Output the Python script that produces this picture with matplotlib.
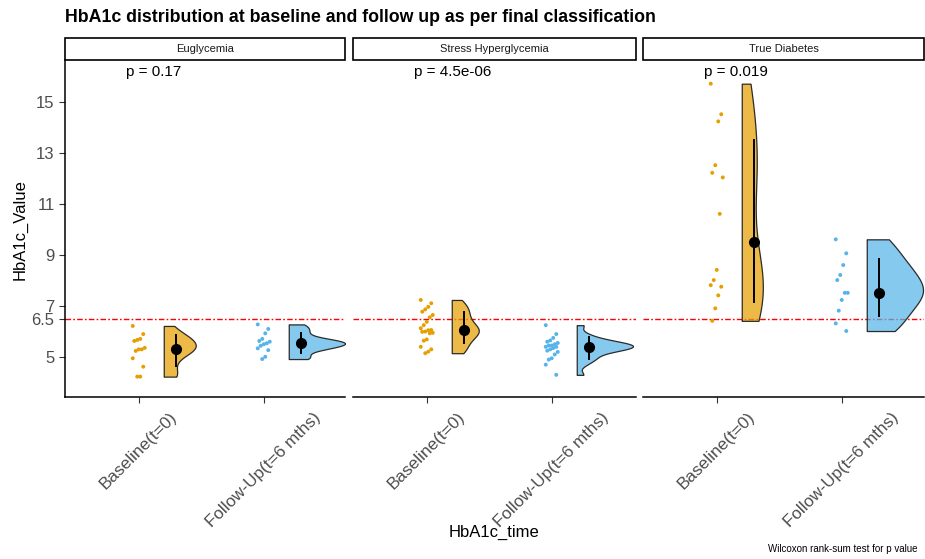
import numpy as np
import matplotlib
matplotlib.use("Agg")
import matplotlib.pyplot as plt
from matplotlib.patches import Rectangle
from matplotlib.colors import to_rgba

plt.rcParams['font.family'] = ['Liberation Sans', 'DejaVu Sans']

# facet names, x categories, p values
panels = ['Euglycemia', 'Stress Hyperglycemia', 'True Diabetes']
times = ['Baseline(t=0)', 'Follow-Up(t=6 mths)']
p_labels = ['p = 0.17', 'p = 4.5e-06', 'p = 0.019']

# HbA1c values
eu_base = [6.22, 5.90, 5.71, 5.67, 5.63, 5.36, 5.30, 5.30, 5.24, 4.95, 4.62, 4.23, 4.23]
eu_follow = [6.28, 6.10, 5.93, 5.71, 5.63, 5.60, 5.54, 5.50, 5.44, 5.34, 5.27, 5.01, 4.92]
sh_base = [7.24, 7.11, 6.97, 6.87, 6.78, 6.65, 6.56, 6.38, 6.25, 6.13, 6.06, 6.05, 6.00,
           5.99, 5.95, 5.93, 5.69, 5.64, 5.40, 5.30, 5.21, 5.15]
sh_follow = [6.25, 5.90, 5.75, 5.65, 5.60, 5.55, 5.50, 5.45, 5.45, 5.40, 5.40, 5.35, 5.30,
             5.25, 5.20, 5.10, 4.95, 4.90, 4.70, 4.30]
td_base = [15.73, 14.53, 14.25, 12.53, 12.23, 12.05, 10.62, 8.42, 8.02, 7.82, 7.76, 7.42, 6.91, 6.42]
td_follow = [9.62, 9.07, 8.61, 8.22, 8.02, 7.52, 7.52, 7.24, 6.82, 6.32, 6.02]

groups = [(eu_base, eu_follow), (sh_base, sh_follow), (td_base, td_follow)]
colors = ['#E69F00', '#56B4E9']
y_ticks = [5, 6.5, 7, 9, 11, 13, 15]


def bw_nrd0(x):
    sd = x.std(ddof=1)
    q75, q25 = np.percentile(x, [75, 25])
    lo = min(sd, (q75 - q25) / 1.34)
    if lo == 0:
        lo = sd
    return 0.9 * lo * len(x) ** -0.2


def kde(x, grid):
    bw = bw_nrd0(x)
    z = (grid[:, None] - x[None, :]) / bw
    return np.exp(-0.5 * z ** 2).sum(axis=1) / (len(x) * bw * np.sqrt(2 * np.pi))


W, H = 925, 559
fig = plt.figure(figsize=(W / 100, H / 100), dpi=100)
panel_x = [(65, 345), (353, 636), (643, 924)]
top, bottom = 60, 397
px_per_unit = 125

for k, (x0, x1) in enumerate(panel_x):
    ax = fig.add_axes([x0 / W, 1 - bottom / H, (x1 - x0) / W, (bottom - top) / H])
    ax.set_xlim(0.41, 0.41 + (x1 - x0) / px_per_unit)
    ax.set_ylim(3.43, 16.66)
    for s in ['top', 'right']:
        ax.spines[s].set_visible(False)
    ax.spines['bottom'].set_linewidth(1.1)
    ax.spines['left'].set_linewidth(1.1)
    if k > 0:
        ax.spines['left'].set_visible(False)
        ax.set_yticks([])
    else:
        ax.set_yticks(y_ticks)
        ax.set_yticklabels(['5', '6.5', '7', '9', '11', '13', '15'])
    ax.set_xticks([1, 2])
    ax.set_xticklabels(times, rotation=45, ha='center')
    ax.tick_params(axis='both', labelcolor='#4D4D4D', color='#333333', length=4, width=0.8)
    ax.tick_params(axis='y', labelsize=12)
    ax.tick_params(axis='x', labelsize=12.3, pad=5)

    ax.axhline(6.5, color='red', lw=1, linestyle=(0, (4, 1.6, 1.2, 1.6)), zorder=1)

    # density scaling shared within the panel (ggplot scale = "area")
    dens = []
    for vals in groups[k]:
        v = np.array(vals)
        grid = np.linspace(v.min(), v.max(), 300)
        dens.append((grid, kde(v, grid)))
    dmax = max(d.max() for _, d in dens)

    for i, vals in enumerate(groups[k]):
        v = np.array(vals)
        pos = i + 1
        jit = (((np.arange(len(v)) * 7) % 9) - 4) * 0.012
        ax.scatter(pos + jit, v, s=8, color=colors[i], edgecolor='none', zorder=3)

        grid, d = dens[i]
        width = d / dmax * 0.45
        ax.fill_betweenx(grid, pos + 0.2, pos + 0.2 + width,
                         facecolor=to_rgba(colors[i], 0.72), edgecolor='#2b2b2b',
                         lw=0.9, zorder=2)

        m, sd = v.mean(), v.std(ddof=1)
        ax.plot([pos + 0.3, pos + 0.3], [m - sd, m + sd], color='black', lw=1.4, zorder=4)
        ax.plot(pos + 0.3, np.median(v), 'o', color='black', ms=7, zorder=5)

    ax.text(0.9, 16.18, p_labels[k], ha='left', va='center', fontsize=11, color='black')

    # facet strip
    fig.add_artist(Rectangle((x0 / W, 1 - top / H), (x1 - x0) / W, 22 / H,
                             transform=fig.transFigure, fill=False, lw=1.2, edgecolor='black'))
    fig.text((x0 + x1) / 2 / W, 1 - (top - 11) / H, panels[k], ha='center', va='center',
             fontsize=8, color='#1a1a1a')

fig.text(65 / W, 1 - 18 / H, 'HbA1c distribution at baseline and follow up as per final classification',
         ha='left', va='center', fontsize=12.75, fontweight='bold')
fig.text(20 / W, 1 - 230 / H, 'HbA1c_Value', rotation=90, ha='center', va='center', fontsize=12)
fig.text(494 / W, 1 - 532 / H, 'HbA1c_time', ha='center', va='center', fontsize=12)
fig.text(918 / W, 1 - 549 / H, 'Wilcoxon rank-sum test for p value', ha='right', va='center',
         fontsize=7)

fig.savefig('out.png', dpi=100)
